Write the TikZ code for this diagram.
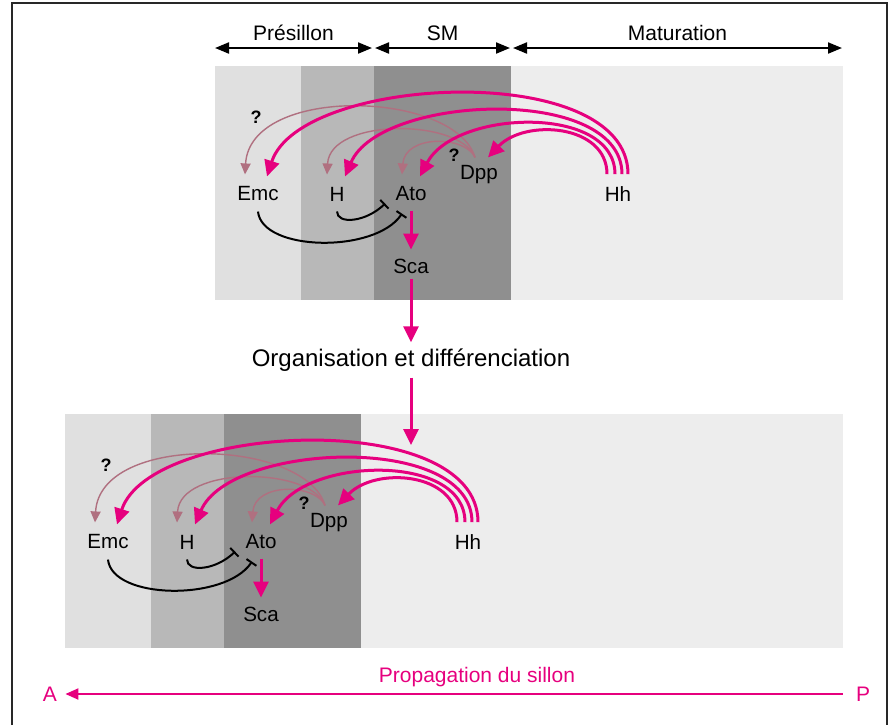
\documentclass[tikz,border=0pt]{standalone}
\usepackage{fontspec}
\setmainfont{Liberation Sans}
\usepackage{tikz}
\usetikzlibrary{arrows.meta}
\definecolor{mymagenta}{RGB}{230,0,126}
\definecolor{mymauve}{RGB}{176,112,128}
\definecolor{bandA}{RGB}{224,224,224}
\definecolor{bandB}{RGB}{184,184,184}
\definecolor{bandC}{RGB}{143,143,143}
\definecolor{bandD}{RGB}{237,237,237}
\definecolor{myframe}{RGB}{40,40,40}
\tikzset{
  gene/.style={font=\fontsize{10.3}{12}\selectfont, inner sep=1pt},
  query/.style={font=\bfseries\fontsize{9}{10}\selectfont, inner sep=0pt},
  stage/.style={above=2pt, inner sep=1pt, font=\fontsize{10.5}{12}\selectfont},
  orgnode/.style={font=\fontsize{12}{14}\selectfont, inner sep=3pt},
  propnode/.style={font=\fontsize{10.5}{12}\selectfont, inner sep=1pt, text=mymagenta},
  actarrow/.style={-{Triangle[length=8pt,width=7.5pt]}, line width=1.5pt, color=mymagenta},
  weakarrow/.style={-{Triangle[length=5.5pt,width=5pt]}, line width=0.7pt, color=mymauve},
  inhib/.style={-{Bar[width=6pt]}, line width=1pt, color=black},
  spanarrow/.style={{Triangle[length=7pt,width=5.5pt]}-{Triangle[length=7pt,width=5.5pt]}, line width=1pt},
  proparrow/.style={-{Triangle[length=6.5pt,width=5.5pt]}, line width=1pt, color=mymagenta},
  frameline/.style={line width=0.75pt, color=myframe}
}

\begin{document}
\begin{tikzpicture}[x=0.5pt, y=-0.5pt]
  \useasboundingbox (0,0) rectangle (890,725);
  \draw[frameline] (12,725) |- (887,3) -- (887,725);

  % Stages
  \coordinate (s0) at (215,48);
  \coordinate (s1) at (372,48);
  \coordinate (s2) at (375,48);
  \coordinate (s3) at (510,48);
  \coordinate (s4) at (513,48);
  \coordinate (s5) at (842,48);
  \draw[spanarrow] (s0) -- node[stage]{Présillon} (s1);
  \draw[spanarrow] (s2) -- node[stage]{SM} (s3);
  \draw[spanarrow] (s4) -- node[stage]{Maturation} (s5);

  % Panels (top, then bottom shifted left)
  \foreach \p/\dx/\dy/\r in {t/0/0/843, b/-150/348/993}{
    \begin{scope}[shift={(\dx,\dy)}]
      \fill[bandA] (215,66) rectangle (301,300);
      \fill[bandB] (301,66) rectangle (374,300);
      \fill[bandC] (374,66) rectangle (511,300);
      \fill[bandD] (511,66) rectangle (\r,300);

      \node[gene] (\p-emc) at (258,194) {Emc};
      \node[gene] (\p-h)   at (337,194) {H};
      \node[gene] (\p-ato) at (411,194) {Ato};
      \node[gene] (\p-dpp) at (479,175) {Dpp};
      \node[gene] (\p-hh)  at (618,194) {Hh};
      \node[gene] (\p-sca) at (411,266) {Sca};
      \node[query] (\p-q1) at (256,117) {?};
      \node[query] (\p-q2) at (454,155) {?};

      % Dpp targets
      \draw[weakarrow] ([xshift=-2pt,yshift=3pt]\p-dpp.north) .. controls +(-20,-67) and +(5,-90) .. ([xshift=-6.5pt,yshift=5pt]\p-emc.north);
      \draw[weakarrow] ([xshift=-2pt,yshift=3pt]\p-dpp.north) .. controls +(-15,-39) and +(3,-57) .. ([xshift=-5pt,yshift=5pt]\p-h.north);
      \draw[weakarrow] ([xshift=-2pt,yshift=3pt]\p-dpp.north) .. controls +(-10,-22) and +(3,-40) .. ([xshift=-4.5pt,yshift=5pt]\p-ato.north);
      % Hh targets
      \draw[actarrow] ([xshift=5pt,yshift=5pt]\p-hh.north) .. controls +(0,-115) and +(33,-102) .. ([xshift=4.5pt,yshift=4pt]\p-emc.north);
      \draw[actarrow] ([xshift=2pt,yshift=5pt]\p-hh.north) .. controls +(0,-90) and +(35,-82) .. ([xshift=4pt,yshift=4pt]\p-h.north);
      \draw[actarrow] ([xshift=-1.5pt,yshift=5pt]\p-hh.north) .. controls +(0,-70) and +(35,-67) .. ([xshift=4.5pt,yshift=4pt]\p-ato.north);
      \draw[actarrow] ([xshift=-5.5pt,yshift=5pt]\p-hh.north) .. controls +(0,-50) and +(37,-39) .. ([xshift=4.5pt,yshift=3pt]\p-dpp.north);
      % Repression of Ato
      \draw[inhib] ([yshift=-4pt]\p-h.south) .. controls +(0,13) and +(-20,19) .. ([xshift=-4pt]\p-ato.south west);
      \draw[inhib] ([yshift=-4pt]\p-emc.south) .. controls +(4,40) and +(-27,40) .. ([xshift=-4.5pt,yshift=-5pt]\p-ato.south);
      \draw[actarrow, shorten <=3.5pt, shorten >=3.4pt] (\p-ato) -- (\p-sca);
    \end{scope}
  }

  \node[orgnode] (org) at (411,360) {Organisation et différenciation};
  \coordinate (land) at (411,445);
  \draw[actarrow, shorten <=1.5pt] (t-sca) -- (org);
  \draw[actarrow] (org) -- (land);

  % Propagation
  \node[propnode] (aend) at (50,694) {A};
  \node[propnode] (pend) at (863,694) {P};
  \node[propnode] (prop) at (477,677) {Propagation du sillon};
  \draw[proparrow, shorten <=5.5pt, shorten >=3pt] (pend) -- (aend);
\end{tikzpicture}
\end{document}
